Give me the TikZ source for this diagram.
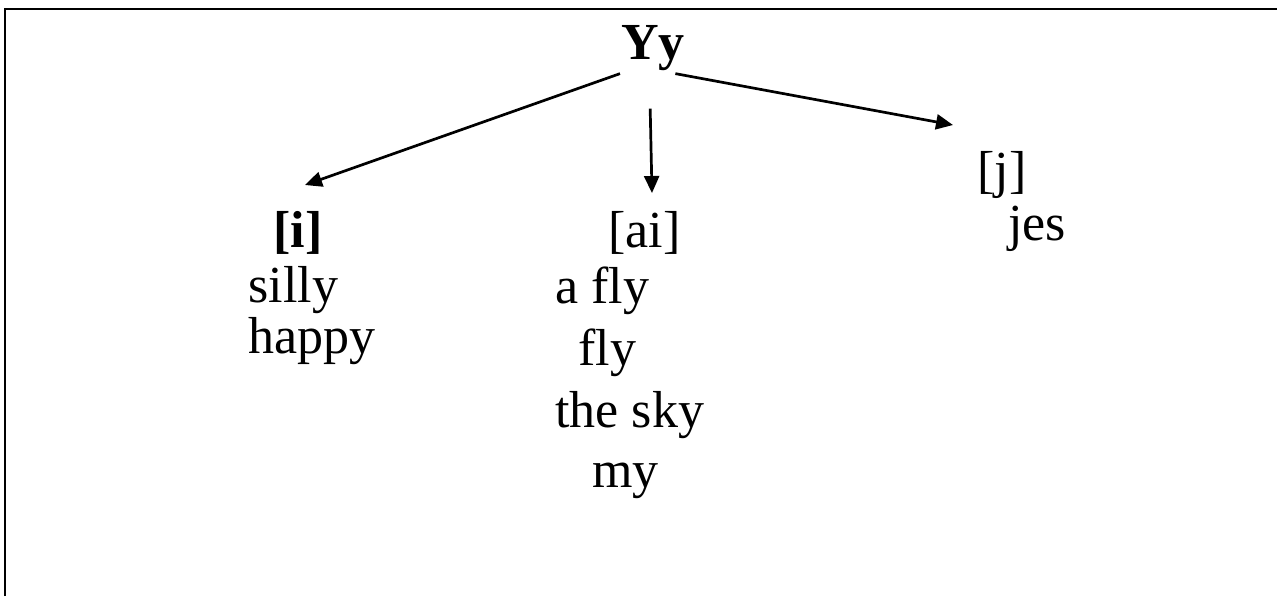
\documentclass[tikz,border=0pt]{standalone}
\usepackage{fontspec}
\setmainfont{Liberation Serif}
\usetikzlibrary{arrows.meta, positioning}

\begin{document}
\begin{tikzpicture}[
    x=0.5pt, y=-0.5pt,
    word/.style={anchor=base west, inner sep=0pt, font=\fontsize{26}{31}\selectfont},
    headword/.style={word, font=\fontsize{26}{31}\selectfont\bfseries},
    arrowstyle/.style={-{Triangle[length=8.5pt, width=7.5pt]}, line width=1.35pt},
]
    \useasboundingbox (0,0) rectangle (1277,596);

    % Frame (only top and left edges show)
    \draw[line width=1.4pt] (5,596) -- (5,9) -- (1277,9);

    % Letter heading
    \node[headword] (yy) at (621,59) {Yy};

    % Column [i]
    \node[headword] (sndI) at (273,247) {[i]};
    \node[word] (silly) at (248,302) {silly};
    \node[word] (happy) at (248,353) {happy};

    % Column [ai]
    \node[word] (sndAi) at (608,247) {[ai]};
    \node[word] (afly) at (555,303) {a fly};
    \node[word] (fly) at (578,365) {fly};
    \node[word] (sky) at (555,427) {the sky};
    \node[word] (my) at (592,487) {my};

    % Column [j]
    \node[word] (sndJ) at (977,187) {[j]};
    \node[word] (jes) at (1008,240) {jes};

    % Arrow ends
    \coordinate (tipI) at (305,185);
    \coordinate (tipAi) at (652,193);
    \coordinate (tipJ) at (953,125);

    % Arrows from the heading
    \draw[arrowstyle] ([shift={(-0.5pt,-1.5pt)}]yy.south west) -- (tipI);
    \draw[arrowstyle] ([shift={(-1.5pt,-19pt)}]yy.south) -- (tipAi);
    \draw[arrowstyle] ([shift={(-5pt,-1.5pt)}]yy.south east) -- (tipJ);

\end{tikzpicture}
\end{document}
